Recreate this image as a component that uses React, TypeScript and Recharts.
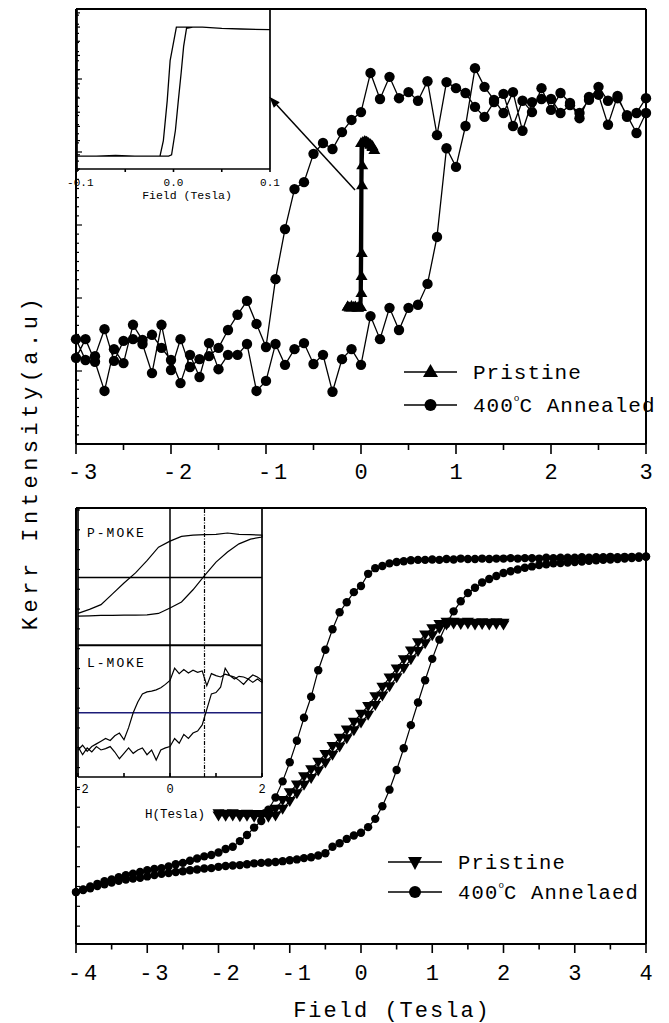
import { LineChart, Line, XAxis, YAxis, ReferenceLine } from "recharts";

const MONO = '"Liberation Mono", "DejaVu Sans Mono", monospace';
const INK = "#000";
const NAVY = "#1c1c78";

const range = (from: number, to: number, step: number) =>
  Array.from({ length: Math.round((to - from) / step) + 1 }, (_, i) => +(from + i * step).toFixed(4));

// ---------- upper panel: field sweep -3 … 3 T ----------
const topField = range(-3, 3, 0.1);
const annealedTopUp = [
  19.8, 24.1, 18.9, 12.2, 21.8, 18.6, 27.4, 23.9, 25.1, 22.1,
  19.3, 14.0, 20.5, 15.4, 23.2, 17.2, 20.5, 20.5, 23.0, 12.2,
  14.5, 23.0, 18.2, 21.8, 23.2, 18.4, 20.5, 12.0, 19.5, 21.8,
  18.2, 29.4, 24.1, 31.3, 26.2, 31.3, 32.0, 36.8, 47.6, 68.0,
  63.7, 73.1, 86.4, 82.1, 79.1, 76.1, 80.9, 72.0, 78.6, 79.3,
  79.3, 76.1, 77.9, 76.1, 79.1, 82.1, 78.9, 79.5, 75.6, 71.5, 76.1,
];
const annealedTopDown = [
  24.1, 19.3, 20.2, 26.4, 19.1, 23.7, 24.1, 23.0, 16.3, 27.4,
  17.0, 24.1, 17.7, 19.5, 20.2, 22.1, 26.2, 29.7, 32.9, 27.6,
  22.3, 37.9, 49.4, 58.6, 60.2, 66.7, 69.2, 67.8, 71.7, 74.5,
  76.3, 85.3, 79.3, 84.4, 79.5, 80.9, 78.9, 83.4, 71.0, 83.2,
  81.8, 80.7, 77.5, 75.2, 78.6, 80.5, 73.1, 78.9, 76.3, 81.8,
  76.8, 80.7, 78.4, 74.9, 79.8, 80.3, 73.4, 80.0, 75.2, 76.1, 79.5,
];
const pristineTopField = [
  -0.14, -0.12, -0.1, -0.08, -0.06, -0.04, -0.02, 0, 0.004, 0.006, 0.008, 0.011, 0.013,
  0.02, 0.04, 0.06, 0.08, 0.1, 0.12, 0.14, 0.12, 0.1, 0.08, 0.06, 0.04, 0.02, 0,
  -0.01, -0.03, -0.06, -0.1, -0.14,
];
const pristineTopKerr = [
  31.6, 31.4, 31.7, 31.5, 31.6, 31.4, 31.6, 31.5, 34.7, 38.6, 43.9, 59.5, 64.1,
  69.3, 69.6, 69.4, 69.1, 68.8, 68.3, 67.6, 68.5, 68.9, 69.2, 69.5, 69.6, 69.4, 69.2,
  31.6, 31.3, 31.5, 31.4, 31.6,
];

// ---------- lower panel: field sweep -4 … 4 T ----------
const bottomField = range(-4, 4, 0.1);
const annealedBottomUp = [
  11.9, 12.4, 12.8, 13.3, 13.7, 14.1, 14.5, 14.8, 15.0, 15.2,
  15.5, 15.8, 16.1, 16.3, 16.5, 16.7, 16.9, 17.1, 17.3, 17.4,
  17.7, 17.9, 18.0, 18.1, 18.3, 18.5, 18.6, 18.7, 18.8, 19.0,
  19.2, 19.4, 19.7, 19.9, 20.3, 20.8, 22.3, 23.1, 24.1, 24.9,
  25.5, 26.8, 28.7, 31.6, 35.4, 39.9, 44.9, 50.2, 55.4, 60.5,
  65.4, 69.8, 73.4, 76.3, 78.6, 80.5, 81.7, 82.9, 83.7, 84.4,
  85.1, 85.5, 85.9, 86.3, 86.6, 86.9, 87.1, 87.3, 87.4, 87.5,
  87.6, 87.7, 87.9, 88.0, 88.1, 88.2, 88.3, 88.4, 88.5, 88.6, 88.8,
];
const annealedBottomDown = [
  11.9, 12.5, 13.2, 13.8, 14.4, 14.8, 15.3, 15.8, 16.1, 16.5,
  16.9, 17.2, 17.4, 17.8, 18.3, 18.6, 19.1, 19.6, 20.1, 20.4,
  21.0, 21.8, 22.3, 23.6, 25.0, 26.7, 28.2, 30.8, 33.6, 37.3,
  41.7, 46.6, 51.9, 56.7, 62.8, 67.5, 72.2, 76.1, 78.4, 80.7,
  82.1, 84.9, 86.2, 86.7, 87.3, 87.6, 87.8, 88.0, 88.1, 88.1,
  88.2, 88.1, 88.3, 88.2, 88.4, 88.3, 88.3, 88.4, 88.3, 88.4,
  88.4, 88.5, 88.4, 88.5, 88.5, 88.4, 88.6, 88.5, 88.6, 88.6,
  88.6, 88.7, 88.6, 88.7, 88.7, 88.8, 88.7, 88.8, 88.8, 88.9, 88.9,
];
const pristineBottomField = range(-2, 2, 0.1);
const pristineBottomUp = [
  29.5, 29.4, 29.5, 29.3, 29.4, 29.2, 29.3, 29.2, 29.5, 31.0,
  32.8, 34.6, 36.5, 38.1, 39.8, 41.6, 43.4, 45.3, 47.2, 49.0,
  50.8, 52.6, 54.8, 57.0, 59.1, 61.2, 63.3, 65.3, 67.2, 69.0,
  70.8, 72.4, 73.3, 73.5, 73.4, 73.5, 73.3, 73.4, 73.3, 73.4, 73.3,
];
const pristineBottomDown = [
  30.0, 29.9, 30.0, 29.8, 29.9, 29.8, 29.8, 30.0, 31.0, 33.0,
  34.8, 36.6, 38.5, 40.1, 41.8, 43.6, 45.4, 47.3, 49.2, 51.0,
  52.8, 54.6, 56.8, 59.0, 61.1, 63.2, 65.3, 67.3, 69.2, 71.0,
  72.4, 73.4, 73.9, 73.9, 73.8, 73.9, 73.7, 73.8, 73.7, 73.8, 73.7,
];

// ---------- inset of the upper panel (pristine, ±0.1 T) ----------
const insetUpField = [-0.1, -0.08, -0.06, -0.04, -0.02, -0.005, -0.002, 0.002, 0.005, 0.008, 0.0105, 0.0135, 0.02, 0.03, 0.05, 0.07, 0.1];
const insetUpKerr = [0, 0, 0.005, 0, 0, 0, 0.01, 0.2, 0.43, 0.65, 0.85, 0.99, 1.0, 1.0, 0.99, 0.985, 0.98];
const insetDownField = [0.1, 0.07, 0.05, 0.03, 0.02, 0.003, -0.0035, -0.0065, -0.0105, -0.014, -0.03, -0.06, -0.1];
const insetDownKerr = [0.98, 0.985, 0.99, 1.0, 1.0, 1.0, 0.74, 0.43, 0.12, 0, 0, 0, 0];

// ---------- inset of the lower panel (P-MOKE above, L-MOKE below) ----------
const pMokeField = [-2, -1.75, -1.5, -1.25, -1, -0.75, -0.5, -0.25, 0, 0.25, 0.5, 0.75, 1, 1.25, 1.5, 1.75, 2];
const pMokeUp = [0.43, 0.435, 0.44, 0.44, 0.445, 0.445, 0.45, 0.47, 0.55, 0.64, 0.82, 1.03, 1.23, 1.38, 1.5, 1.57, 1.6];
const pMokeDown = [0.47, 0.53, 0.6, 0.76, 0.92, 1.07, 1.25, 1.45, 1.54, 1.61, 1.63, 1.635, 1.64, 1.66, 1.64, 1.635, 1.63];
const lMokeField = range(-2, 2, 0.1);
const lMokeUp = [
  -1.5, -1.62, -1.52, -1.58, -1.5, -1.55, -1.53, -1.5, -1.58, -1.68,
  -1.6, -1.52, -1.6, -1.55, -1.52, -1.62, -1.55, -1.7, -1.55, -1.52,
  -1.5, -1.38, -1.45, -1.32, -1.38, -1.3, -1.27, -1.18, -0.95, -0.72,
  -0.7, -0.62, -0.34, -0.45, -0.5, -0.46, -0.47, -0.5, -0.55, -0.5, -0.55,
];
const lMokeDown = [
  -1.55, -1.48, -1.57, -1.5, -1.46, -1.42, -1.38, -1.41, -1.34, -1.3,
  -1.4, -1.22, -1.0, -0.84, -0.72, -0.69, -0.68, -0.66, -0.63, -0.58,
  -0.52, -0.34, -0.42, -0.36, -0.41, -0.37, -0.4, -0.38, -0.6, -0.42,
  -0.45, -0.47, -0.43, -0.45, -0.47, -0.52, -0.58, -0.5, -0.44, -0.47, -0.52,
];

// a hysteresis loop: up-sweep followed by the down-sweep run backwards
const loop = (field: number[], up: number[], down: number[]) => [
  ...field.map((x, i) => ({ x, y: up[i] })),
  ...field.map((x, i) => ({ x, y: down[i] })).reverse(),
];
const pairs = (field: number[], kerr: number[]) => field.map((x, i) => ({ x, y: kerr[i] }));

const annealedTop = loop(topField, annealedTopUp, annealedTopDown);
const pristineTop = pairs(pristineTopField, pristineTopKerr);
const annealedBottom = loop(bottomField, annealedBottomUp, annealedBottomDown);
const pristineBottom = loop(pristineBottomField, pristineBottomUp, pristineBottomDown);
const insetTop = [...pairs(insetUpField, insetUpKerr), ...pairs(insetDownField, insetDownKerr)];
const pMoke = loop(pMokeField, pMokeUp, pMokeDown);
const lMoke = loop(lMokeField, lMokeUp, lMokeDown);

const isInt = (v: number) => Math.abs(v - Math.round(v)) < 1e-6;

// tick marks + labels drawn by hand so that majors/minors get different lengths
function xTick(o: {
  major: number; minor: number; dy: number; size: number; spacing: number;
  labelled: (v: number) => boolean; fmt?: (v: number) => string; inward?: boolean;
}) {
  return (p: any) => {
    const v = p.payload.value as number;
    const lab = o.labelled(v);
    const dir = o.inward ? -1 : 1;
    return (
      <g>
        <line x1={p.x} x2={p.x} y1={p.y} y2={p.y + dir * (lab ? o.major : o.minor)} stroke={INK} strokeWidth={1.6} />
        {lab && (
          <text
            x={p.x + (v < 0 ? o.size * 0.3 : 0) + o.spacing / 2}
            y={p.y + o.dy}
            textAnchor="middle"
            fontFamily={MONO}
            fontSize={o.size}
            letterSpacing={o.spacing}
            fill={INK}
          >
            {o.fmt ? o.fmt(v) : String(v)}
          </text>
        )}
      </g>
    );
  };
}

function yTick(dir: 1 | -1, len: (i: number) => number) {
  return (p: any) => (
    <line x1={p.x} x2={p.x + dir * len(p.index)} y1={p.y} y2={p.y} stroke={INK} strokeWidth={1.2} />
  );
}

const circleDot = (r: number) => (p: any) => <circle key={p.index} cx={p.cx} cy={p.cy} r={r} fill={INK} />;
const triDot = (half: number, h: number, down: boolean) => (p: any) => {
  const { cx, cy } = p;
  const tip = down ? cy + h * 0.6 : cy - h * 0.6;
  const base = down ? cy - h * 0.4 : cy + h * 0.4;
  return <path key={p.index} d={`M${cx},${tip}L${cx + half},${base}L${cx - half},${base}Z`} fill={INK} />;
};

const arrowShape = (p: any) => {
  const { x1, y1, x2, y2 } = p;
  const a = Math.atan2(y2 - y1, x2 - x1);
  const L = 11;
  const W = 4;
  const bx = x2 - L * Math.cos(a);
  const by = y2 - L * Math.sin(a);
  const nx = -Math.sin(a) * W;
  const ny = Math.cos(a) * W;
  return (
    <g>
      <line x1={x1} y1={y1} x2={bx} y2={by} stroke={INK} strokeWidth={1.5} />
      <path d={`M${x2},${y2}L${bx + nx},${by + ny}L${bx - nx},${by - ny}Z`} fill={INK} />
    </g>
  );
};

const frame = { stroke: INK, strokeWidth: 2 };
const thinFrame = { stroke: INK, strokeWidth: 1.7 };

// axes are 1px thick boxes (a zero-sized axis is not drawn at all); margins compensate
const TOP_X_TICKS = range(-3, 3, 0.5);
const TOP_Y_TICKS = Array.from({ length: 48 }, (_, k) => k * 2.0977);
const BOTTOM_X_TICKS = range(-4, 4, 0.5);
const BOTTOM_Y_TICKS = Array.from({ length: 22 }, (_, k) => 4.1 + k * 4.545);

function TopPanel() {
  return (
    <LineChart width={669} height={500} margin={{ top: 8, right: 22, bottom: 55, left: 75 }}>
      <XAxis
        type="number" dataKey="x" domain={[-3, 3]} ticks={TOP_X_TICKS} interval={0}
        height={1} tickSize={0} tickMargin={0} tickLine={false} axisLine={frame}
        tick={xTick({ major: 10, minor: 6, dy: 35, size: 22, spacing: 3, labelled: isInt })}
      />
      <XAxis xAxisId="top" orientation="top" type="number" domain={[-3, 3]} height={1} tick={false} tickLine={false} axisLine={frame} />
      <YAxis
        type="number" domain={[0, 100]} ticks={TOP_Y_TICKS} interval={0} width={1}
        tickSize={0} tickMargin={0} tickLine={false} axisLine={frame}
        tick={yTick(1, (i) => (i % 8 === 0 ? 6 : 3))}
      />
      <YAxis
        yAxisId="right" orientation="right" type="number" domain={[0, 100]}
        ticks={TOP_Y_TICKS.filter((_, i) => i % 8 === 0)} interval={0} width={1}
        tickSize={0} tickMargin={0} tickLine={false} axisLine={frame}
        tick={yTick(-1, () => 5)}
      />
      <ReferenceLine segment={[{ x: -0.063, y: 58.4 }, { x: -0.965, y: 79.8 }]} shape={arrowShape} />
      <Line data={annealedTop} dataKey="y" stroke={INK} strokeWidth={1.3} dot={circleDot(5.2)} isAnimationActive={false} />
      <Line data={pristineTop} dataKey="y" stroke={INK} strokeWidth={3} dot={triDot(6, 10, false)} isAnimationActive={false} />
    </LineChart>
  );
}

function BottomPanel() {
  return (
    <LineChart width={669} height={1023} margin={{ top: 507, right: 22, bottom: 78, left: 75 }}>
      <XAxis
        type="number" dataKey="x" domain={[-4, 4]} ticks={BOTTOM_X_TICKS} interval={0}
        height={1} tickSize={0} tickMargin={0} tickLine={false} axisLine={frame}
        tick={xTick({ major: 9, minor: 5.5, dy: 36, size: 22, spacing: 3, labelled: isInt })}
      />
      <XAxis xAxisId="top" orientation="top" type="number" domain={[-4, 4]} height={1} tick={false} tickLine={false} axisLine={frame} />
      <YAxis
        type="number" domain={[0, 100]} ticks={BOTTOM_Y_TICKS} interval={0} width={1}
        tickSize={0} tickMargin={0} tickLine={false} axisLine={frame}
        tick={yTick(1, () => 4)}
      />
      <YAxis
        yAxisId="right" orientation="right" type="number" domain={[0, 100]} ticks={BOTTOM_Y_TICKS}
        interval={0} width={1} tickSize={0} tickMargin={0} tickLine={false} axisLine={frame}
        tick={yTick(-1, () => 4)}
      />
      <Line data={annealedBottom} dataKey="y" stroke={INK} strokeWidth={1.2} dot={circleDot(4.2)} isAnimationActive={false} />
      <Line data={pristineBottom} dataKey="y" stroke={INK} strokeWidth={1.2} dot={triDot(6, 10, true)} isAnimationActive={false} />
    </LineChart>
  );
}

const INSET_TOP_Y_TICKS = Array.from({ length: 12 }, (_, k) => -0.1 + k * 0.11);

function TopInset() {
  return (
    <LineChart width={669} height={230} margin={{ top: 8, right: 398, bottom: 60, left: 76 }}>
      <XAxis
        type="number" dataKey="x" domain={[-0.1, 0.1]} ticks={[-0.1, -0.05, 0, 0.05, 0.1]} interval={0}
        height={1} tickSize={0} tickMargin={0} tickLine={false} axisLine={thinFrame}
        tick={xTick({ major: 3, minor: 3, dy: 17, size: 11, spacing: 0, labelled: (v) => Math.abs(v) < 1e-6 || Math.abs(Math.abs(v) - 0.1) < 1e-6, fmt: (v) => v.toFixed(1) })}
      />
      <XAxis xAxisId="top" orientation="top" type="number" domain={[-0.1, 0.1]} height={1} tick={false} tickLine={false} axisLine={thinFrame} />
      <YAxis
        type="number" domain={[-0.1, 1.14]} ticks={INSET_TOP_Y_TICKS} interval={0} width={1}
        tickSize={0} tickMargin={0} tickLine={false} axisLine={thinFrame}
        tick={yTick(1, () => 3)}
      />
      <YAxis
        yAxisId="right" orientation="right" type="number" domain={[-0.1, 1.14]} ticks={INSET_TOP_Y_TICKS}
        interval={0} width={1} tickSize={0} tickMargin={0} tickLine={false} axisLine={thinFrame}
        tick={yTick(-1, () => 3)}
      />
      <Line data={insetTop} dataKey="y" stroke={INK} strokeWidth={1.3} dot={false} isAnimationActive={false} />
    </LineChart>
  );
}

function BottomInset() {
  return (
    <LineChart width={669} height={830} margin={{ top: 507, right: 406, bottom: 52, left: 77 }}>
      <XAxis
        type="number" dataKey="x" domain={[-2, 2]} ticks={[-2, -1, 0, 1, 2]} interval={0}
        height={1} tickSize={0} tickMargin={0} tickLine={false} axisLine={thinFrame}
        tick={xTick({ major: 4, minor: 4, dy: 16, size: 12, spacing: 0, inward: true, labelled: (v) => v % 2 === 0 })}
      />
      <XAxis xAxisId="top" orientation="top" type="number" domain={[-2, 2]} height={1} tick={false} tickLine={false} axisLine={thinFrame} />
      <YAxis type="number" domain={[-1.95, 2.03]} width={1} tick={false} tickLine={false} axisLine={thinFrame} />
      <YAxis yAxisId="right" orientation="right" type="number" domain={[-1.95, 2.03]} width={1} tick={false} tickLine={false} axisLine={thinFrame} />
      <ReferenceLine x={0} stroke={INK} strokeWidth={1.5} />
      <ReferenceLine x={0.75} stroke={INK} strokeWidth={1.2} strokeDasharray="4 1.5 1 1.5" />
      <ReferenceLine y={1} stroke={INK} strokeWidth={1.5} />
      <ReferenceLine y={0} stroke={INK} strokeWidth={2} />
      <ReferenceLine y={-1} stroke={NAVY} strokeWidth={1.5} />
      <Line data={pMoke} dataKey="y" stroke={INK} strokeWidth={1.2} dot={false} isAnimationActive={false} />
      <Line data={lMoke} dataKey="y" stroke={INK} strokeWidth={1.2} dot={false} isAnimationActive={false} />
    </LineChart>
  );
}

function LegendRow(props: {
  x0: number; x1: number; y: number; textX: number; size: number; spacing: number;
  marker: "up" | "down" | "circle"; label: string; temp?: string;
}) {
  const { x0, x1, y, textX, size, spacing, marker, label, temp } = props;
  const cx = (x0 + x1) / 2;
  let m;
  if (marker === "circle") m = <circle cx={cx} cy={y} r={6} fill={INK} />;
  else if (marker === "up") m = <path d={`M${cx},${y - 8}L${cx + 7.5},${y + 5}L${cx - 7.5},${y + 5}Z`} fill={INK} />;
  else m = <path d={`M${cx},${y + 8}L${cx + 7},${y - 5}L${cx - 7},${y - 5}Z`} fill={INK} />;
  return (
    <g>
      <line x1={x0} x2={x1} y1={y} y2={y} stroke={INK} strokeWidth={1.6} />
      {m}
      <text x={textX} y={y + size * 0.35} fontFamily={MONO} fontSize={size} letterSpacing={spacing} fill={INK}>
        {temp ? (
          <>
            {temp}
            <tspan dy={-size * 0.55} fontSize={size * 0.45} letterSpacing={0}>o</tspan>
            <tspan dy={size * 0.55}>{label}</tspan>
          </>
        ) : (
          label
        )}
      </text>
    </g>
  );
}

function Annotations() {
  return (
    <svg width={669} height={1023} style={{ position: "absolute", left: 0, top: 0 }}>
      <text
        transform="translate(31,462) rotate(-90)"
        textAnchor="middle"
        dominantBaseline="central"
        fontFamily={MONO}
        fontSize={22}
        letterSpacing={4.5}
        fill={INK}
      >
        Kerr Intensity(a.u)
      </text>
      <text x={392} y={1017} textAnchor="middle" fontFamily={MONO} fontSize={22} letterSpacing={2} fill={INK}>
        Field (Tesla)
      </text>

      <text x={187} y={199} textAnchor="middle" fontFamily={MONO} fontSize={11.5} fill={INK}>
        Field (Tesla)
      </text>
      <text x={175} y={818} textAnchor="middle" fontFamily={MONO} fontSize={12.5} fill={INK}>
        H(Tesla)
      </text>
      <text x={87} y={537} fontFamily={MONO} fontSize={13} letterSpacing={2} fill={INK}>
        P-MOKE
      </text>
      <text x={87} y={667} fontFamily={MONO} fontSize={13} letterSpacing={2} fill={INK}>
        L-MOKE
      </text>

      <LegendRow x0={404} x1={457} y={372} textX={473} size={21} spacing={1} marker="up" label="Pristine" />
      <LegendRow x0={404} x1={457} y={405} textX={473} size={21} spacing={1} marker="circle" temp="400" label="C Annealed" />
      <LegendRow x0={388} x1={442} y={862} textX={458} size={20.5} spacing={1.2} marker="down" label="Pristine" />
      <LegendRow x0={388} x1={442} y={892} textX={458} size={20.5} spacing={1.2} marker="circle" temp="400" label="C Annelaed" />
    </svg>
  );
}

export default function App() {
  return (
    <div style={{ position: "absolute", left: 0, top: 0, width: 669, height: 1023, background: "#fff" }}>
      <div style={{ position: "absolute", left: 0, top: 0 }}>
        <TopPanel />
      </div>
      <div style={{ position: "absolute", left: 0, top: 0 }}>
        <BottomPanel />
      </div>
      <div style={{ position: "absolute", left: 0, top: 0 }}>
        <TopInset />
      </div>
      <div style={{ position: "absolute", left: 0, top: 0 }}>
        <BottomInset />
      </div>
      <Annotations />
    </div>
  );
}
